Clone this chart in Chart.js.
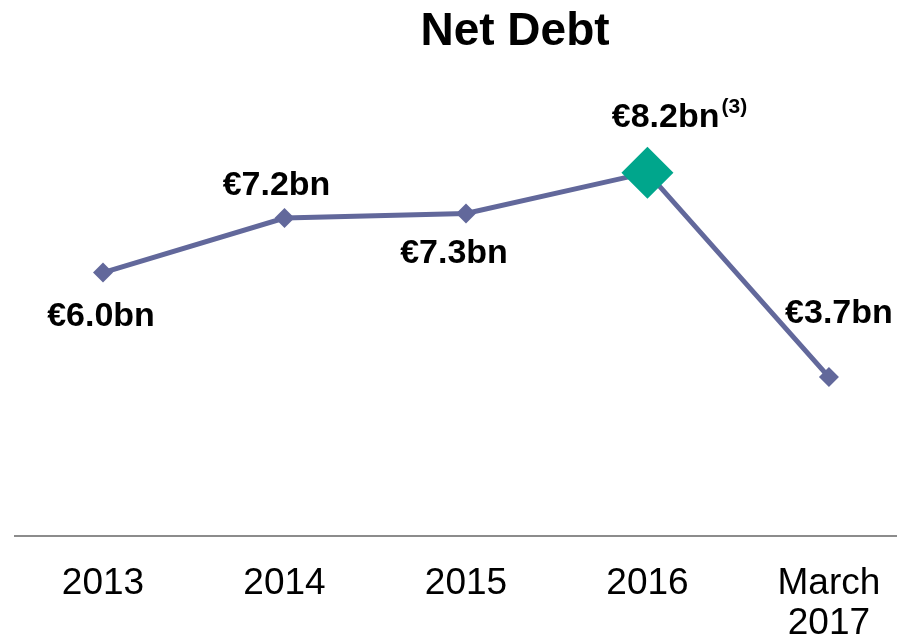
<!DOCTYPE html>
<html>
<head>
<meta charset="utf-8">
<script src="https://cdn.jsdelivr.net/npm/chart.js@4.4.1/dist/chart.umd.min.js"></script>
<style>
  html, body { margin: 0; padding: 0; background: #fff; overflow: hidden; }
  #wrap { width: 897px; height: 637px; }
</style>
</head>
<body>
<div id="wrap"><canvas id="grafico" width="897" height="637"></canvas></div>
<script>
// dati
const anni = [['2013'], ['2014'], ['2015'], ['2016'], ['March', '2017']];
const debitoNetto = [6.0, 7.2, 7.3, 8.2, 3.7];
const etichette = ['€6.0bn', '€7.2bn', '€7.3bn', '€8.2bn', '€3.7bn'];
const note = ['', '', '', '(3)', ''];

const coloreLinea = '#62689b';
const coloreEvidenza = '#00a68c';

// spostamenti delle etichette rispetto al punto (px)
const spostX = [-2, -8, -12, 32, 10];
const spostY = [53, -23, 49, -46, -54];

const pluginTesti = {
    id: 'testi',
    afterDatasetsDraw(chart) {
        const ctx = chart.ctx;
        const meta = chart.getDatasetMeta(0);
        ctx.save();
        ctx.fillStyle = '#000';
        ctx.textBaseline = 'alphabetic';

        // titolo
        ctx.font = 'bold 46px "Liberation Sans", Arial, sans-serif';
        ctx.textAlign = 'center';
        ctx.fillText('Net Debt', 515, 45);

        meta.data.forEach((punto, i) => {
            ctx.font = 'bold 34px "Liberation Sans", Arial, sans-serif';
            const w1 = ctx.measureText(etichette[i]).width;
            ctx.font = 'bold 21px "Liberation Sans", Arial, sans-serif';
            const w2 = note[i] ? ctx.measureText(note[i]).width + 2 : 0;
            const x0 = punto.x + spostX[i] - (w1 + w2) / 2;
            const y0 = punto.y + spostY[i];
            ctx.textAlign = 'left';
            ctx.font = 'bold 34px "Liberation Sans", Arial, sans-serif';
            ctx.fillText(etichette[i], x0, y0);
            if (note[i]) {
                ctx.font = 'bold 21px "Liberation Sans", Arial, sans-serif';
                ctx.fillText(note[i], x0 + w1 + 2, y0 - 14);
            }
        });
        ctx.restore();
    }
};

const canvas = document.getElementById('grafico').getContext('2d');

const grafico = new Chart(canvas, {
    type: 'line',
    data: {
        datasets: [{
            data: debitoNetto.map((v, i) => ({ x: i, y: v })),
            borderColor: coloreLinea,
            borderWidth: 5,
            fill: false,
            tension: 0,
            pointStyle: 'rectRot',
            pointRadius: debitoNetto.map((v, i) => i === 3 ? 26 : 10),
            pointHoverRadius: debitoNetto.map((v, i) => i === 3 ? 26 : 10),
            pointBackgroundColor: debitoNetto.map((v, i) => i === 3 ? coloreEvidenza : coloreLinea),
            pointBorderColor: debitoNetto.map((v, i) => i === 3 ? coloreEvidenza : coloreLinea),
            pointBorderWidth: 0,
            clip: false
        }]
    },
    options: {
        responsive: false,
        animation: false,
        layout: {
            autoPadding: false,
            padding: { top: 100, left: 15, right: 0, bottom: 2 }
        },
        plugins: {
            legend: { display: false },
            title: { display: false },
            tooltip: { enabled: false }
        },
        scales: {
            x: {
                type: 'linear',
                min: -0.485,
                max: 4.375,
                grid: { display: false, drawTicks: false },
                border: { display: true, color: '#8c8c8c', width: 2 },
                afterBuildTicks(scala) {
                    scala.ticks = anni.map((a, i) => ({ value: i }));
                },
                afterFit(scala) {
                    scala.paddingLeft = 0;
                    scala.paddingRight = 0;
                    scala.height = 99;
                },
                ticks: {
                    padding: 27,
                    color: '#000',
                    maxRotation: 0,
                    autoSkip: false,
                    font: { family: '"Liberation Sans", Arial, sans-serif', size: 37, lineHeight: 1.1 },
                    callback: (v) => anni[v]
                }
            },
            y: {
                display: false,
                min: 0.2,
                max: 9.8
            }
        }
    },
    plugins: [pluginTesti]
});
</script>
</body>
</html>
